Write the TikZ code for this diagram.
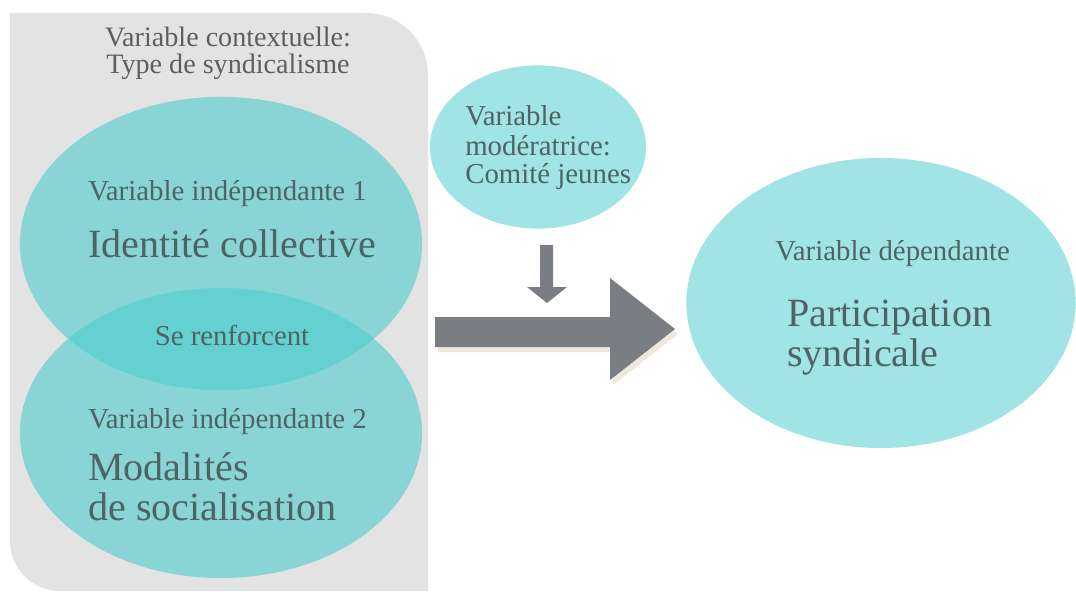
\documentclass[tikz,border=0pt]{standalone}
\usepackage{fontspec}
\setmainfont{Liberation Serif}
\usepackage{tikz}
\usetikzlibrary{shapes}
\definecolor{panelgray}{HTML}{E3E3E3}
\definecolor{varteal}{RGB}{78,205,206}
\definecolor{labelcol}{HTML}{4E6363}
\definecolor{ctxcol}{HTML}{5E5E5E}
\definecolor{arrowgray}{HTML}{7A7E82}
\definecolor{arrowshadow}{HTML}{EEE7DD}
\tikzstyle{panel}=[fill=panelgray]
\tikzstyle{indep}=[ellipse, fill=varteal, fill opacity=0.6, inner sep=0pt]
\tikzstyle{outer}=[ellipse, fill=varteal, fill opacity=0.53, inner sep=0pt]
\tikzstyle{ctxtext}=[inner sep=0pt, text=ctxcol, font=\fontsize{20}{21}\selectfont]
\tikzstyle{smalltext}=[inner sep=0pt, text=labelcol, font=\fontsize{20.5}{23}\selectfont]
\tikzstyle{bigtext}=[inner sep=0pt, text=labelcol, font=\fontsize{28.5}{30}\selectfont]

\begin{document}
\begin{tikzpicture}[x=0.025cm, y=-0.025cm]
	\useasboundingbox (0,0) rectangle (1076,591);
	\fill[white] (0,0) rectangle (1076,591);
	\fill[panel] (428,591) -- (428,75) arc[start angle=0, end angle=90, radius=1.55cm] -- (10,13) -- (10,541) arc[start angle=180, end angle=270, radius=1.25cm] -- cycle;
	\node[indep, minimum width=10.05cm, minimum height=7.33cm] (indepone) at (221,243.5) {};
	\node[indep, minimum width=10.05cm, minimum height=7.25cm] (indeptwo) at (221,433) {};
	\node[outer, minimum width=5.4cm, minimum height=4.08cm] (moderator) at (538,147) {};
	\node[outer, minimum width=9.73cm, minimum height=7.25cm] (dependent) at (881,303) {};
	\coordinate (mainstart) at (435,332);
	\coordinate (modstart) at (540,245);
	\fill[arrowshadow] ([shift={(3,5)}]mainstart) ++(0,-15) -- ++(175,0) -- ++(0,-39) -- ++(65,51) -- ++(-65,51) -- ++(0,-33) -- ++(-175,0) -- cycle;
	\fill[arrowgray] (mainstart) ++(0,-15) -- ++(175,0) -- ++(0,-39) -- ++(65,51) -- ++(-65,51) -- ++(0,-33) -- ++(-175,0) -- cycle;
	\fill[arrowgray] (modstart) -- ++(13,0) -- ++(0,42) -- ++(14,0) -- ++(-20,16) -- ++(-20,-16) -- ++(13,0) -- cycle;
	\node[ctxtext, anchor=base] (ctxa) at (228,47) {Variable contextuelle:};
	\node[ctxtext, anchor=base] (ctxb) at (228,74) {Type de syndicalisme};
	\node[smalltext, anchor=base west] (indeponelab) at (88,200) {Variable indépendante 1};
	\node[bigtext, anchor=base west] (indeponename) at (88,257) {Identité collective};
	\node[smalltext, anchor=base] (reinforce) at (232,345) {Se renforcent};
	\node[smalltext, anchor=base west] (indeptwolab) at (88,428) {Variable indépendante 2};
	\node[bigtext, anchor=base west] (indeptwonamea) at (88,480) {Modalités};
	\node[bigtext, anchor=base west] (indeptwonameb) at (88,520) {de socialisation};
	\node[smalltext, anchor=base west] (moda) at (465,125) {Variable};
	\node[smalltext, anchor=base west] (modb) at (465,155) {modératrice:};
	\node[smalltext, anchor=base west] (modc) at (465,183) {Comité jeunes};
	\node[smalltext, anchor=base west] (deplab) at (775,260) {Variable dépendante};
	\node[bigtext, anchor=base west] (depnamea) at (787,326) {Participation};
	\node[bigtext, anchor=base west] (depnameb) at (787,366) {syndicale};
\end{tikzpicture}
\end{document}
